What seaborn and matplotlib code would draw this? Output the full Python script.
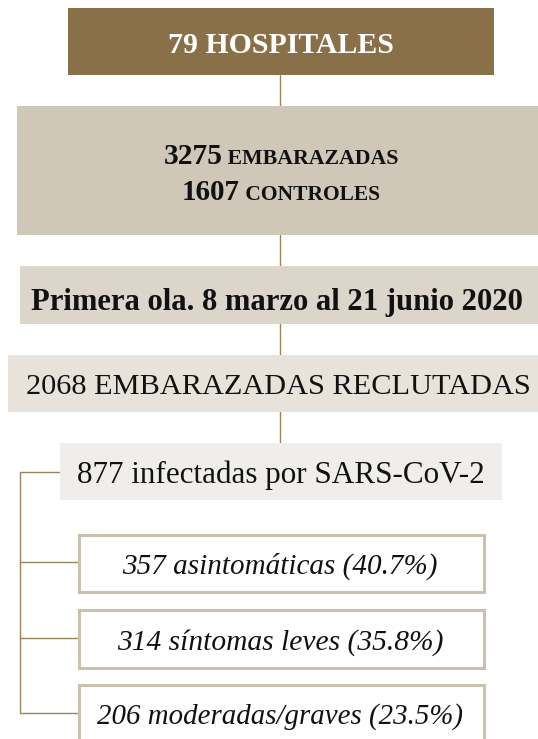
import matplotlib.pyplot as plt
import seaborn as sns
from matplotlib.patches import Rectangle

sns.set_theme(style="white")
plt.rcParams["font.family"] = ["Liberation Serif", "DejaVu Serif"]

# Datos del diagrama de flujo
hospitales = 79
embarazadas = 3275
controles = 1607
periodo = "Primera ola. 8 marzo al 21 junio 2020"
reclutadas = 2068
infectadas = 877
grupos = ["asintomáticas", "síntomas leves", "moderadas/graves"]
grupo_n = [357, 314, 206]
grupo_pct = [40.7, 35.8, 23.5]

# Colores (de oscuro a claro)
fills = ["#8A7049", "#CFC7B7", "#DBD5CA", "#E7E2DA", "#F0EEEA"]
line_c = "#9A8459"
edge_c = "#CBC0AD"
text_c = "#111111"

fig = plt.figure(figsize=(5.38, 7.39), dpi=100)
ax = fig.add_axes([0, 0, 1, 1])
ax.set_xlim(0, 538)
ax.set_ylim(739, 0)
ax.axis("off")
renderer = fig.canvas.get_renderer()


def box(x0, x1, y0, y1, fc, ec=None, lw=0):
    ax.add_patch(Rectangle((x0, y0), x1 - x0, y1 - y0, facecolor=fc,
                           edgecolor=ec if ec else fc, linewidth=lw, zorder=2))


def label(x, y, s, width, **kw):
    t = ax.text(x, y, s, ha="center", va="baseline", color=kw.pop("color", text_c),
                fontsize=20, zorder=3, **kw)
    w = t.get_window_extent(renderer).width
    t.set_fontsize(20 * width / w)
    return t


def smallcaps_line(cx, y, num, word, width):
    # numero en tamaño normal + palabra en versalitas (mayúsculas reducidas)
    t1 = ax.text(0, y, num, ha="left", va="baseline", fontsize=20,
                 fontweight="bold", color=text_c, zorder=3)
    t2 = ax.text(0, y, " " + word, ha="left", va="baseline", fontsize=20 * 0.74,
                 fontweight="bold", color=text_c, zorder=3)
    w1 = t1.get_window_extent(renderer).width
    w2 = t2.get_window_extent(renderer).width
    k = width / (w1 + w2)
    t1.set_fontsize(20 * k)
    t2.set_fontsize(20 * 0.74 * k)
    x0 = cx - width / 2
    t1.set_x(x0)
    t2.set_x(x0 + w1 * k)


# Conectores
ax.plot([280, 280], [75, 443], color=line_c, lw=1, zorder=1)
ax.plot([60, 20, 20], [472, 472, 713], color=line_c, lw=1, zorder=1)
for yb in [562, 638, 713]:
    ax.plot([20, 77], [yb, yb], color=line_c, lw=1, zorder=1)

# Cajas principales
box(68, 494, 8, 75, fills[0])
label(280.5, 53, f"{hospitales} HOSPITALES", 225, fontweight="bold", color="white")

box(17, 538, 106, 235, fills[1])
smallcaps_line(281, 164, f"{embarazadas}", "EMBARAZADAS", 235)
smallcaps_line(281, 200, f"{controles}", "CONTROLES", 198)

box(20, 538, 266, 324, fills[2])
label(276.5, 310, periodo, 491, fontweight="bold")

box(8, 538, 355, 412, fills[3])
label(278.5, 394, f"{reclutadas} EMBARAZADAS RECLUTADAS", 505)

box(60, 502, 443, 500, fills[4])
label(280.5, 483, f"{infectadas} infectadas por SARS-CoV-2", 407)

# Subgrupos de infectadas
sub_boxes = [(533, 593), (608, 669), (683, 745)]
sub_base = [574, 650, 724]
sub_width = [315, 326, 365]
for (y0, y1), yb, w, g, n, p in zip(sub_boxes, sub_base, sub_width, grupos, grupo_n, grupo_pct):
    box(78.5, 483.5, y0 + 1.5, y1 - 1.5, "white", edge_c, 2.2)
    label(280, yb, f"{n} {g} ({p}%)", w, style="italic")

fig.savefig("out.png", dpi=100)
